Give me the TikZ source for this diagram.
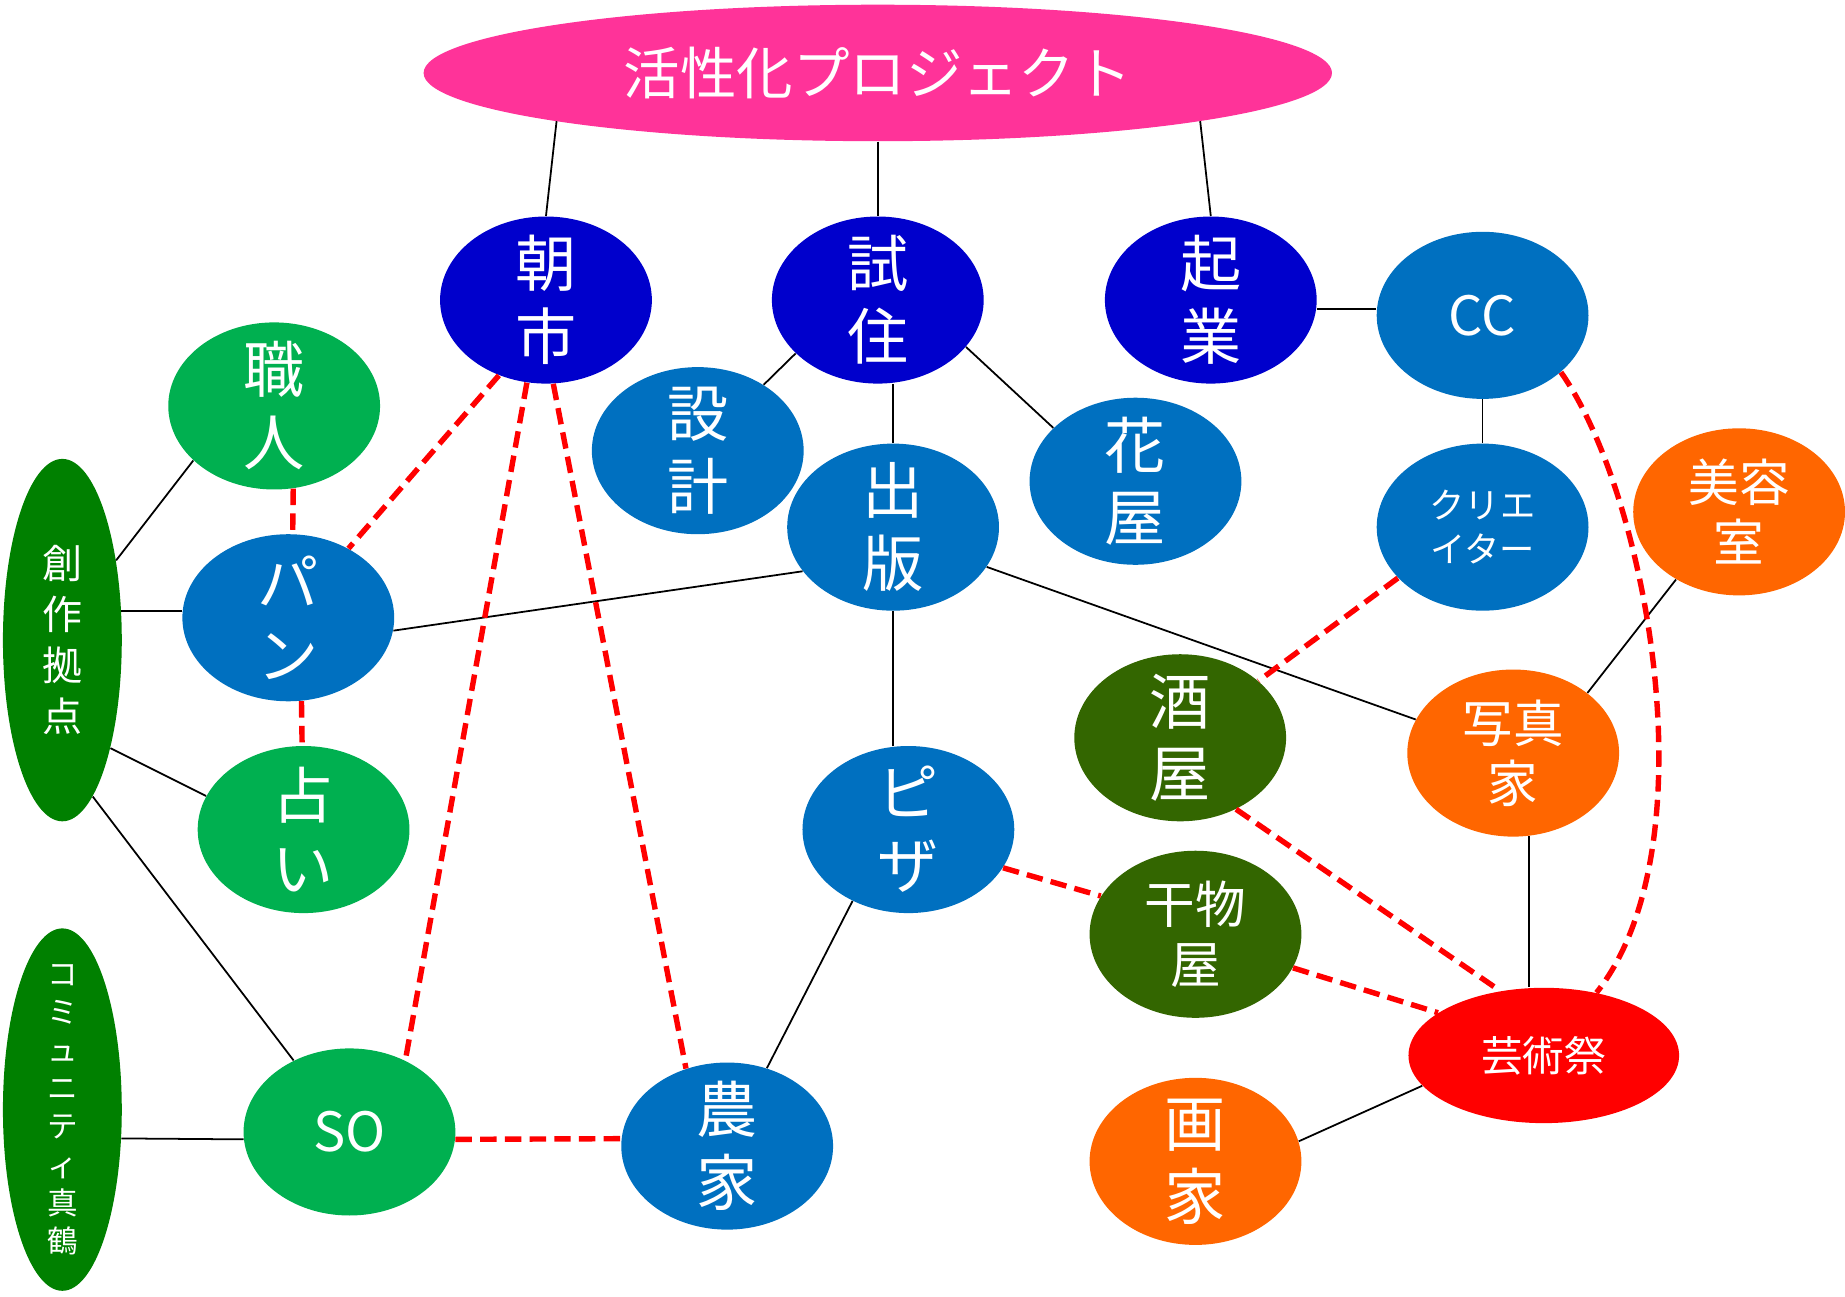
\documentclass[tikz,border=0pt]{standalone}
\usepackage{fontspec}
\setmainfont{Noto Sans CJK JP}
\usetikzlibrary{shapes.geometric,calc}
\definecolor{pinkc}{HTML}{FF3399}
\definecolor{navyc}{HTML}{0000CC}
\definecolor{bluec}{HTML}{0070C0}
\definecolor{greenc}{HTML}{00B050}
\definecolor{dgreenc}{HTML}{008000}
\definecolor{olivec}{HTML}{336600}
\definecolor{orangec}{HTML}{FF6600}
\definecolor{redc}{HTML}{FF0000}
\tikzset{
  bub/.style={ellipse, minimum width=90pt, minimum height=71pt, inner xsep=0pt, inner ysep=-12pt,
    text=white, align=center, font=\fontsize{26}{31}\selectfont},
  mid/.style={font=\fontsize{21.5}{25.5}\selectfont},
  tall/.style={ellipse, minimum width=50.5pt, minimum height=154pt, inner xsep=0pt, inner ysep=-16pt,
    text=white, align=center, fill=dgreenc},
  solidln/.style={draw=black, line width=0.75pt},
  redln/.style={draw=redc, line width=2.3pt, dash pattern=on 7pt off 3.5pt},
}
\begin{document}
\begin{tikzpicture}[x=0.5pt, y=-0.5pt]
\useasboundingbox (0,0) rectangle (1568,1102);
% nodes
\node[ellipse, fill=pinkc, minimum width=386pt, minimum height=58pt, inner sep=0pt, text=white,
  font=\fontsize{24}{28}\selectfont] (proj) at (746,62) {活性化プロジェクト};
\node[bub, fill=navyc] (asa) at (464,255) {朝\\市};
\node[bub, fill=navyc] (shiju) at (746,255) {試\\住};
\node[bub, fill=navyc] (kigyo) at (1029,255) {起\\業};
\node[bub, fill=bluec, font=\fontsize{23}{28}\selectfont] (cc) at (1260,268) {CC};
\node[bub, fill=greenc] (shokunin) at (233,345) {職\\人};
\node[bub, fill=bluec] (sekkei) at (593,383) {設\\計};
\node[bub, fill=bluec] (shuppan) at (759,448) {出\\版};
\node[bub, fill=bluec] (hanaya) at (965,409) {花\\屋};
\node[bub, fill=bluec, font=\fontsize{15}{18.4}\selectfont] (creator) at (1260,448) {クリエ\\イター};
\node[bub, mid, fill=orangec] (biyou) at (1478,435) {美容\\室};
\node[tall, font=\fontsize{17}{21.7}\selectfont] (sosaku) at (53,544) {創\\作\\拠\\点};
\node[bub, fill=bluec] (pan) at (245,525) {パ\\ン};
\node[bub, fill=olivec] (sakaya) at (1003,627) {酒\\屋};
\node[bub, mid, fill=orangec] (shashin) at (1286,640) {写真\\家};
\node[bub, fill=greenc] (uranai) at (258,705) {占\\い};
\node[bub, fill=bluec] (pizza) at (772,705) {ピ\\ザ};
\node[bub, mid, fill=olivec] (himono) at (1016,794) {干物\\屋};
\node[ellipse, fill=redc, minimum width=115pt, minimum height=57.5pt, inner sep=0pt, text=white,
  font=\fontsize{17.7}{21}\selectfont] (geijutsu) at (1312,897) {芸術祭};
\node[tall, font=\fontsize{13}{16.2}\selectfont] (community) at (53,943) {コ\\ミ\\ュ\\ニ\\テ\\ィ\\真\\鶴};
\node[bub, fill=greenc, font=\fontsize{23}{28}\selectfont] (so) at (297,962) {SO};
\node[bub, fill=bluec] (nouka) at (618,974) {農\\家};
\node[bub, fill=orangec] (gaka) at (1016,987) {画\\家};
% solid connectors
\draw[solidln] ($(proj.center)+(-273,41)$) -- (asa.north);
\draw[solidln] (proj.south) -- (shiju.north);
\draw[solidln] ($(proj.center)+(274,41)$) -- (kigyo.north);
\draw[solidln] (shiju.213) -- (sekkei.45.5);
\draw[solidln] (shiju.-28.4) -- (hanaya.147);
\draw[solidln] (shuppan.north) -- (shuppan.north |- shiju.south);
\draw[solidln] (kigyo.-5) -- (cc.west |- kigyo.-5);
\draw[solidln] (cc.south) -- (creator.north);
\draw[solidln] (shokunin.214.6) -- (sosaku.56.5);
\draw[solidln] (sosaku.26) -- (pan.west |- sosaku.26);
\draw[solidln] (sosaku.-66.3) -- (uranai.161);
\draw[solidln] (sosaku.-79.4) -- (so.128);
\draw[solidln] (pan.-7.6) -- (shuppan.206);
\draw[solidln] (shuppan.south) -- (pizza.north -| shuppan.south);
\draw[solidln] (shuppan.-23.3) -- (shashin.161.8);
\draw[solidln] (biyou.227) -- (shashin.39.3);
\draw[solidln] (shashin.-79.6) -- (geijutsu.north -| shashin.-79.6);
\draw[solidln] (pizza.232) -- (nouka.63.4);
\draw[solidln] (gaka.11) -- (geijutsu.194.3);
\draw[solidln] (community.-26) -- (so.184);
% red dashed connectors
\draw[redln] (asa.238.2) -- (pan.49.6);
\draw[redln] (asa.257) -- (so.52.3);
\draw[redln] (asa.-85) -- (nouka.118.7);
\draw[redln] (shokunin.-77) -- (pan.87);
\draw[redln] (pan.-81) -- (uranai.91.6);
\draw[redln] (so.-4) -- (nouka.176);
\draw[redln] (pizza.-22.9) -- (himono.158);
\draw[redln] (creator.211) -- (sakaya.36.2);
\draw[redln] (sakaya.-52.4) -- (geijutsu.124.4);
\draw[redln] (himono.-19.6) -- (geijutsu.158.7);
\draw[redln] (cc.-36) .. controls (1400,420) and (1455,720) .. (geijutsu.50);
\end{tikzpicture}
\end{document}
